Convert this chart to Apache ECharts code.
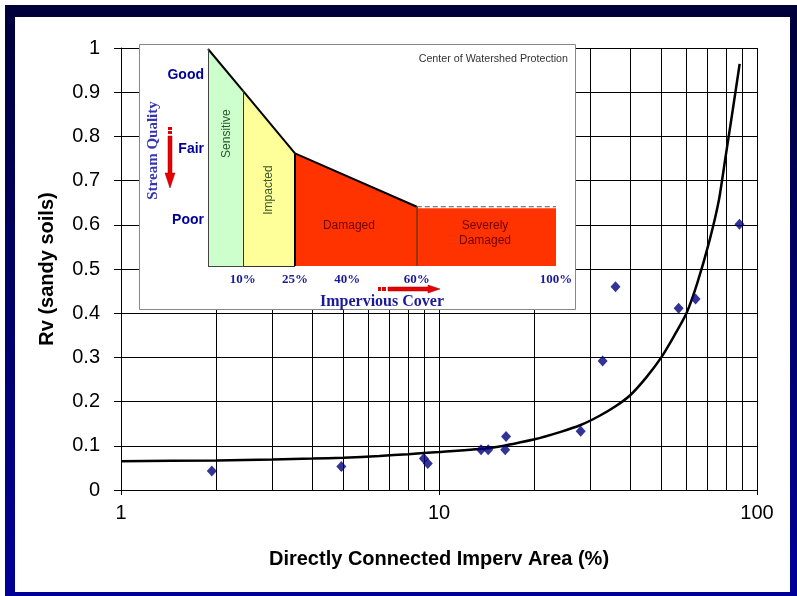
<!DOCTYPE html>
<html>
<head>
<meta charset="utf-8">
<script src="https://cdn.jsdelivr.net/npm/echarts@6/dist/echarts.min.js"></script>
<style>
  html, body { margin: 0; padding: 0; background: #fff; }
  #chart { width: 797px; height: 596px; }
</style>
</head>
<body>
<div id="chart"></div>
<script>
// measured sites
const siteImperv = [1.93, 4.93, 8.96, 9.22, 13.56, 14.28, 16.15, 16.25, 27.9, 32.7, 35.9, 56.7, 64.1, 88.1]
const siteRv = [0.043, 0.053, 0.071, 0.060, 0.091, 0.091, 0.091, 0.121, 0.133, 0.292, 0.46, 0.411, 0.432, 0.601]

// curve
const curveImperv = [1, 2, 3, 4, 5, 6.5, 8, 10, 14.4, 20, 24, 27.9, 32, 36, 40, 45, 50, 55, 60, 65, 71, 75.9, 79.5, 83.5, 88.2]
const curveRv = [0.065, 0.067, 0.069, 0.071, 0.073, 0.077, 0.081, 0.086, 0.095, 0.115, 0.131, 0.147, 0.168, 0.19, 0.215, 0.256, 0.30, 0.35, 0.40, 0.47, 0.566, 0.656, 0.75, 0.85, 0.964]

// minor log grid lines
const minorTicks = [2, 3, 4, 5, 6, 7, 8, 9, 20, 30, 40, 50, 60, 70, 80, 90]

// inset: stream quality vs impervious cover
const insetCover = [0, 10, 25, 60, 100]
const insetQuality = [100, 80.8, 51.9, 27.3, 27.3]
const severeTop = 26.6
const insetZones = ['Sensitive', 'Impacted', 'Damaged', 'Severely\nDamaged']
const zoneLabelAt = [[5.5, 61], [17.5, 35], [40.5, 18.5], [79.6, 15]]
const insetTicks = [10, 25, 40, 60, 100]
const qualityTicks = [21, 54, 88]
const qualityNames = ['Poor', 'Fair', 'Good']

const zoneColors = ['#ccffcc', '#ffff99', '#ff3300', '#ff3300']
const zoneEdges = [
  { color: '#444', width: 1 },
  { color: '#333', width: 1 },
  { color: '#000', width: 2 },
  { color: '#993300', width: 2 }
]
const zoneText = ['#2a552a', '#35552a', '#700000', '#700000']

const chart = echarts.init(document.getElementById('chart'))

const zoneSeries = insetZones.map((name, i) => {
  const x0 = insetCover[i]
  const x1 = insetCover[i + 1]
  const last = i === insetZones.length - 1
  const top0 = last ? severeTop : insetQuality[i]
  const top1 = last ? severeTop : insetQuality[i + 1]
  const edges = [[{ coord: [x0, 0] }, { coord: [x0, insetQuality[i]] }]]
  if (i < 2) edges.push([{ coord: [x0, 0] }, { coord: [x1, 0] }])
  return {
    name: name,
    type: 'line',
    xAxisIndex: 1,
    yAxisIndex: 1,
    z: 10,
    symbol: 'none',
    silent: true,
    data: [[x0, top0], [x1, top1]],
    lineStyle: last ? { width: 0 } : { color: '#000', width: 2 },
    areaStyle: { color: zoneColors[i], opacity: 1 },
    markLine: {
      z: 12,
      silent: true,
      symbol: 'none',
      label: { show: false },
      lineStyle: { color: zoneEdges[i].color, width: zoneEdges[i].width, type: 'solid' },
      data: edges
    },
    markPoint: {
      z: 13,
      silent: true,
      symbol: 'circle',
      symbolSize: 1,
      itemStyle: { color: 'rgba(0,0,0,0)' },
      label: {
        show: true,
        position: 'inside',
        formatter: name,
        color: zoneText[i],
        fontSize: 12,
        lineHeight: 15,
        rotate: i < 2 ? 90 : 0
      },
      data: [{ coord: zoneLabelAt[i] }]
    }
  }
})

const option = {
  animation: false,
  backgroundColor: '#fff',
  textStyle: { fontFamily: 'Liberation Sans, Arial, sans-serif' },
  grid: [
    { left: 121, right: 40, top: 48, bottom: 106 },
    { left: 208, top: 49, width: 348, height: 217 }
  ],
  xAxis: [
    {
      type: 'log',
      logBase: 10,
      min: 1,
      max: 100,
      gridIndex: 0,
      axisLine: { lineStyle: { color: '#000', width: 1 } },
      axisTick: { length: 5, lineStyle: { color: '#000' } },
      splitLine: { show: true, lineStyle: { color: '#000', width: 1 } },
      axisLabel: { fontSize: 20, color: '#000', margin: 13 },
      name: 'Directly Connected Imperv Area (%)',
      nameLocation: 'middle',
      nameGap: 59,
      nameTextStyle: { fontSize: 20, fontWeight: 'bold', color: '#000' }
    },
    {
      type: 'value',
      gridIndex: 1,
      min: 0,
      max: 100,
      z: 10,
      axisLine: { show: false },
      axisTick: { show: false },
      splitLine: { show: false },
      axisLabel: {
        customValues: insetTicks,
        formatter: '{value}%',
        color: '#1a1a99',
        fontFamily: 'Liberation Serif, Times New Roman, serif',
        fontWeight: 'bold',
        fontSize: 13,
        margin: 7
      },
      name: 'Impervious Cover',
      nameLocation: 'middle',
      nameGap: 28,
      nameTextStyle: {
        color: '#1a1a99',
        fontFamily: 'Liberation Serif, Times New Roman, serif',
        fontWeight: 'bold',
        fontSize: 16
      }
    }
  ],
  yAxis: [
    {
      type: 'value',
      gridIndex: 0,
      min: 0,
      max: 1,
      interval: 0.1,
      axisLine: { show: true, lineStyle: { color: '#000', width: 1 } },
      axisTick: { show: true, length: 7, lineStyle: { color: '#000' } },
      splitLine: { show: true, lineStyle: { color: '#000', width: 1 } },
      axisLabel: { fontSize: 20, color: '#000', margin: 21 },
      name: 'Rv (sandy soils)',
      nameLocation: 'middle',
      nameGap: 64,
      nameTextStyle: { fontSize: 20, fontWeight: 'bold', color: '#000' }
    },
    {
      type: 'value',
      gridIndex: 1,
      min: 0,
      max: 100,
      z: 10,
      axisLine: { show: false },
      axisTick: { show: false },
      splitLine: { show: false },
      axisLabel: {
        customValues: qualityTicks,
        formatter: v => qualityNames[qualityTicks.indexOf(v)] || '',
        color: '#000099',
        fontWeight: 'bold',
        fontSize: 14,
        margin: 4
      },
      name: 'Stream Quality',
      nameLocation: 'middle',
      nameGap: 47,
      nameTextStyle: {
        color: '#3535b0',
        fontFamily: 'Liberation Serif, Times New Roman, serif',
        fontWeight: 'bold',
        fontSize: 15,
        padding: [0, 0, 0, 14]
      }
    }
  ],
  graphic: [
    {
      type: 'rect',
      z: -10,
      silent: true,
      shape: { x: 5, y: 5, width: 800, height: 600 },
      style: {
        fill: new echarts.graphic.LinearGradient(0, 0, 0, 1, [
          { offset: 0, color: '#00003a' },
          { offset: 1, color: '#00009a' }
        ])
      }
    },
    {
      type: 'rect',
      z: -9,
      silent: true,
      shape: { x: 15, y: 17, width: 775, height: 575 },
      style: { fill: '#fff' }
    },
    {
      type: 'rect',
      z: 5,
      silent: true,
      shape: { x: 139.5, y: 44.5, width: 436, height: 265 },
      style: { fill: '#fff', stroke: '#888', lineWidth: 1 }
    },
    {
      type: 'text',
      z: 12,
      silent: true,
      x: 568,
      y: 59,
      style: {
        text: 'Center of Watershed Protection',
        fill: '#333',
        font: '10.7px Liberation Sans, Arial, sans-serif',
        textAlign: 'right',
        textVerticalAlign: 'middle'
      }
    },
    // down arrow next to the quality labels
    {
      type: 'rect', z: 12, silent: true,
      shape: { x: 168, y: 127, width: 4, height: 3 },
      style: { fill: '#e00000' }
    },
    {
      type: 'rect', z: 12, silent: true,
      shape: { x: 168, y: 131, width: 4, height: 3 },
      style: { fill: '#e00000' }
    },
    {
      type: 'polygon', z: 12, silent: true,
      shape: { points: [[168, 136], [172, 136], [172, 173], [175, 173], [170, 188], [165, 173], [168, 173]] },
      style: { fill: '#e80000', stroke: '#900', lineWidth: 0.5 }
    },
    // right arrow under the cover labels
    {
      type: 'rect', z: 12, silent: true,
      shape: { x: 378, y: 287, width: 3, height: 4 },
      style: { fill: '#e00000' }
    },
    {
      type: 'rect', z: 12, silent: true,
      shape: { x: 382, y: 287, width: 4, height: 4 },
      style: { fill: '#e00000' }
    },
    {
      type: 'polygon', z: 12, silent: true,
      shape: { points: [[388, 287], [428, 287], [428, 285], [440, 289], [428, 293], [428, 291], [388, 291]] },
      style: { fill: '#e80000', stroke: '#900', lineWidth: 0.5 }
    }
  ],
  series: [
    {
      name: 'minor grid',
      type: 'line',
      xAxisIndex: 0,
      yAxisIndex: 0,
      z: 1,
      silent: true,
      data: [],
      markLine: {
        z: 1,
        silent: true,
        symbol: 'none',
        label: { show: false },
        lineStyle: { color: '#000', width: 1, type: 'solid' },
        data: minorTicks.map(v => ({ xAxis: v }))
      }
    },
    {
      name: 'curve',
      type: 'line',
      xAxisIndex: 0,
      yAxisIndex: 0,
      z: 3,
      symbol: 'none',
      smooth: 0.2,
      lineStyle: { color: '#000', width: 2.5 },
      data: curveImperv.map((x, i) => [x, curveRv[i]])
    },
    {
      name: 'sites',
      type: 'scatter',
      xAxisIndex: 0,
      yAxisIndex: 0,
      z: 4,
      symbol: 'diamond',
      symbolSize: [10, 11],
      itemStyle: { color: '#00007a' },
      data: siteImperv.map((x, i) => [x, siteRv[i]])
    },
    ...zoneSeries,
    {
      name: 'threshold',
      type: 'line',
      xAxisIndex: 1,
      yAxisIndex: 1,
      z: 11,
      symbol: 'none',
      silent: true,
      lineStyle: { color: '#555', width: 1, type: [5, 3] },
      data: [[insetCover[3], insetQuality[3]], [insetCover[4], insetQuality[4]]]
    }
  ]
}

chart.setOption(option)
</script>
</body>
</html>
